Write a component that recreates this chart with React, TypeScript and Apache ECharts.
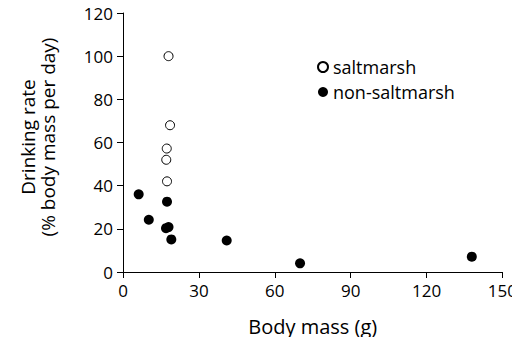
import React, { useEffect, useRef } from "react";
import * as echarts from "echarts";

const saltmarsh: [number, number][] = [
  [18.0, 100],
  [18.6, 68],
  [17.3, 57.2],
  [17.1, 52],
  [17.4, 42],
];

const nonSaltmarsh: [number, number][] = [
  [6.2, 36],
  [17.4, 32.6],
  [10.2, 24.2],
  [17.0, 20.3],
  [18.0, 20.8],
  [19.1, 15.1],
  [41.0, 14.6],
  [70.0, 4.0],
  [137.9, 7.1],
];

const xTicks = { min: 0, max: 150, interval: 30 };
const yTicks = { min: 0, max: 120, interval: 20 };

const FONT = "Open Sans";

export default function App() {
  const ref = useRef<HTMLDivElement>(null);
  useEffect(() => {
    if (!ref.current) return;
    const chart = echarts.init(ref.current, null, { renderer: "svg" });
    chart.setOption({
      animation: false,
      backgroundColor: "#ffffff",
      textStyle: { fontFamily: FONT },
      grid: { left: 123, right: 14, top: 13, bottom: 73, containLabel: false },
      legend: {
        orient: "vertical",
        left: 312,
        top: 53,
        itemWidth: 10,
        itemHeight: 10,
        itemGap: 7,
        itemTextGap: 12,
        icon: "circle",
        textStyle: { fontFamily: FONT, fontSize: 18, color: "#000" },
        data: ["saltmarsh", "non-saltmarsh"],
      },
      graphic: [
        {
          type: "text",
          x: 38,
          y: 137,
          rotation: Math.PI / 2,
          style: {
            text: "Drinking rate\n(% body mass per day)",
            fontFamily: FONT,
            fontSize: 19,
            lineHeight: 20,
            fill: "#000",
            align: "center",
            verticalAlign: "middle",
          },
        },
      ],
      xAxis: {
        type: "value",
        min: xTicks.min,
        max: xTicks.max,
        interval: xTicks.interval,
        name: "Body mass (g)",
        nameLocation: "middle",
        nameGap: 44,
        nameTextStyle: { fontFamily: FONT, fontSize: 20, color: "#000" },
        axisLine: { lineStyle: { color: "#000", width: 1 } },
        axisTick: { show: true, length: 6, lineStyle: { color: "#000" } },
        axisLabel: { fontFamily: FONT, fontSize: 17, color: "#000", margin: 10 },
        splitLine: { show: false },
      },
      yAxis: {
        type: "value",
        min: yTicks.min,
        max: yTicks.max,
        interval: yTicks.interval,
        axisLine: { show: true, lineStyle: { color: "#000", width: 1 } },
        axisTick: { show: true, length: 6, lineStyle: { color: "#000" } },
        axisLabel: { fontFamily: FONT, fontSize: 17, color: "#000", margin: 10 },
        splitLine: { show: false },
      },
      series: [
        {
          name: "saltmarsh",
          type: "scatter",
          data: saltmarsh,
          symbol: "circle",
          symbolSize: 9,
          itemStyle: { color: "#fff", borderColor: "#000", borderWidth: 1, opacity: 1 },
        },
        {
          name: "non-saltmarsh",
          type: "scatter",
          data: nonSaltmarsh,
          symbol: "circle",
          symbolSize: 10,
          itemStyle: { color: "#000", opacity: 1 },
        },
      ],
    });
    return () => chart.dispose();
  }, []);
  return <div ref={ref} style={{ width: 520, height: 345, margin: -8 }} />;
}
